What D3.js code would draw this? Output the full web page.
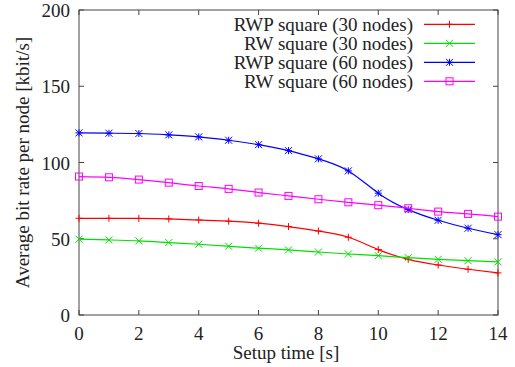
<!DOCTYPE html>
<html><head><meta charset="utf-8">
<script src="https://cdn.jsdelivr.net/npm/d3@7"></script>
<style>body{margin:0;background:#fff}svg{display:block}</style>
</head><body><svg id="c" width="515" height="367"></svg>
<script>
const setupTime = [0,1,2,3,4,5,6,7,8,9,10,11,12,13,14];
const rwp30 = [63.4,63.4,63.3,63.0,62.3,61.5,60.2,58.0,55.1,51.0,42.9,36.5,32.8,30.0,27.6];
const rw30  = [49.7,49.2,48.6,47.5,46.4,45.1,43.8,42.7,41.3,40.0,38.9,37.6,36.5,35.6,34.8];
const rwp60 = [119.4,119.2,119.0,118.1,116.8,114.6,111.7,107.8,102.4,94.5,79.9,69.1,62.1,56.9,52.7];
const rw60  = [90.8,90.3,88.8,86.8,84.6,82.7,80.3,78.1,75.9,73.9,72.0,70.0,67.8,66.3,64.5];
const seriesNames = ["RWP square (30 nodes)","RW square (30 nodes)","RWP square (60 nodes)","RW square (60 nodes)"];
const seriesColors = ["#ff0000","#00e000","#0000ff","#ff00ff"];
const seriesMarkers = ["plus","cross","star","square"];
const xTicks = [0,2,4,6,8,10,12,14];
const yTicks = [0,50,100,150,200];
const xLabel = "Setup time [s]";
const yLabel = "Average bit rate per node [kbit/s]";

const FONT = "Liberation Serif";
const svg = d3.select("#c");
const L=79, R=498, T=10, B=315;
const x = d3.scaleLinear().domain([0,14]).range([L,R]);
const y = d3.scaleLinear().domain([0,200]).range([B,T]);
const fs = 19, tk = 5, frame="#444", tc="#222";

const g = svg.append("g");
function txt(sel){ return sel.append("text").attr("font-family",FONT).attr("font-size",fs).attr("fill",tc); }
xTicks.forEach(v=>{
  g.append("line").attr("x1",x(v)).attr("x2",x(v)).attr("y1",B).attr("y2",B-tk).attr("stroke",frame);
  g.append("line").attr("x1",x(v)).attr("x2",x(v)).attr("y1",T).attr("y2",T+tk).attr("stroke",frame);
  txt(g).attr("x",x(v)).attr("y",B+25).attr("text-anchor","middle").text(v);
});
yTicks.forEach(v=>{
  g.append("line").attr("x1",L).attr("x2",L+tk).attr("y1",y(v)).attr("y2",y(v)).attr("stroke",frame);
  g.append("line").attr("x1",R).attr("x2",R-tk).attr("y1",y(v)).attr("y2",y(v)).attr("stroke",frame);
  txt(g).attr("x",70).attr("y",y(v)+7).attr("text-anchor","end").text(v);
});
svg.append("rect").attr("x",L).attr("y",T).attr("width",R-L).attr("height",B-T).attr("fill","none").attr("stroke",frame).attr("stroke-width",1);

txt(svg).attr("x",286).attr("y",359).attr("text-anchor","middle").text(xLabel);
txt(svg).attr("transform",`translate(29,${(T+B)/2}) rotate(-90)`).attr("text-anchor","middle").text(yLabel);

function marker(sel, type, cx, cy, color){
  const s=3.5;
  const p = sel.append("g").attr("transform",`translate(${cx},${cy})`).attr("stroke",color).attr("fill","none").attr("stroke-width",1);
  if(type==="plus"||type==="star"){
    p.append("line").attr("x1",-s).attr("x2",s).attr("y1",0).attr("y2",0);
    p.append("line").attr("x1",0).attr("x2",0).attr("y1",-s).attr("y2",s);
  }
  if(type==="cross"||type==="star"){
    p.append("line").attr("x1",-s).attr("x2",s).attr("y1",-s).attr("y2",s);
    p.append("line").attr("x1",-s).attr("x2",s).attr("y1",s).attr("y2",-s);
  }
  if(type==="square"){
    p.append("rect").attr("x",-s).attr("y",-s).attr("width",2*s).attr("height",2*s);
  }
}

const data = [rwp30,rw30,rwp60,rw60];
const line = d3.line().x((d,i)=>x(setupTime[i])).y(d=>y(d)).curve(d3.curveNatural);
data.forEach((vals,k)=>{
  svg.append("path").attr("d",line(vals)).attr("fill","none").attr("stroke",seriesColors[k]).attr("stroke-width",1.2);
  vals.forEach((v,i)=>marker(svg,seriesMarkers[k],x(setupTime[i]),y(v),seriesColors[k]));
});

seriesNames.forEach((n,k)=>{
  const ly = 24.3 + k*19;
  txt(svg).attr("x",413).attr("y",ly+6.5).attr("text-anchor","end").text(n);
  svg.append("line").attr("x1",424).attr("x2",475).attr("y1",ly).attr("y2",ly).attr("stroke",seriesColors[k]).attr("stroke-width",1.2);
  marker(svg,seriesMarkers[k],449.5,ly,seriesColors[k]);
});
</script></body></html>
